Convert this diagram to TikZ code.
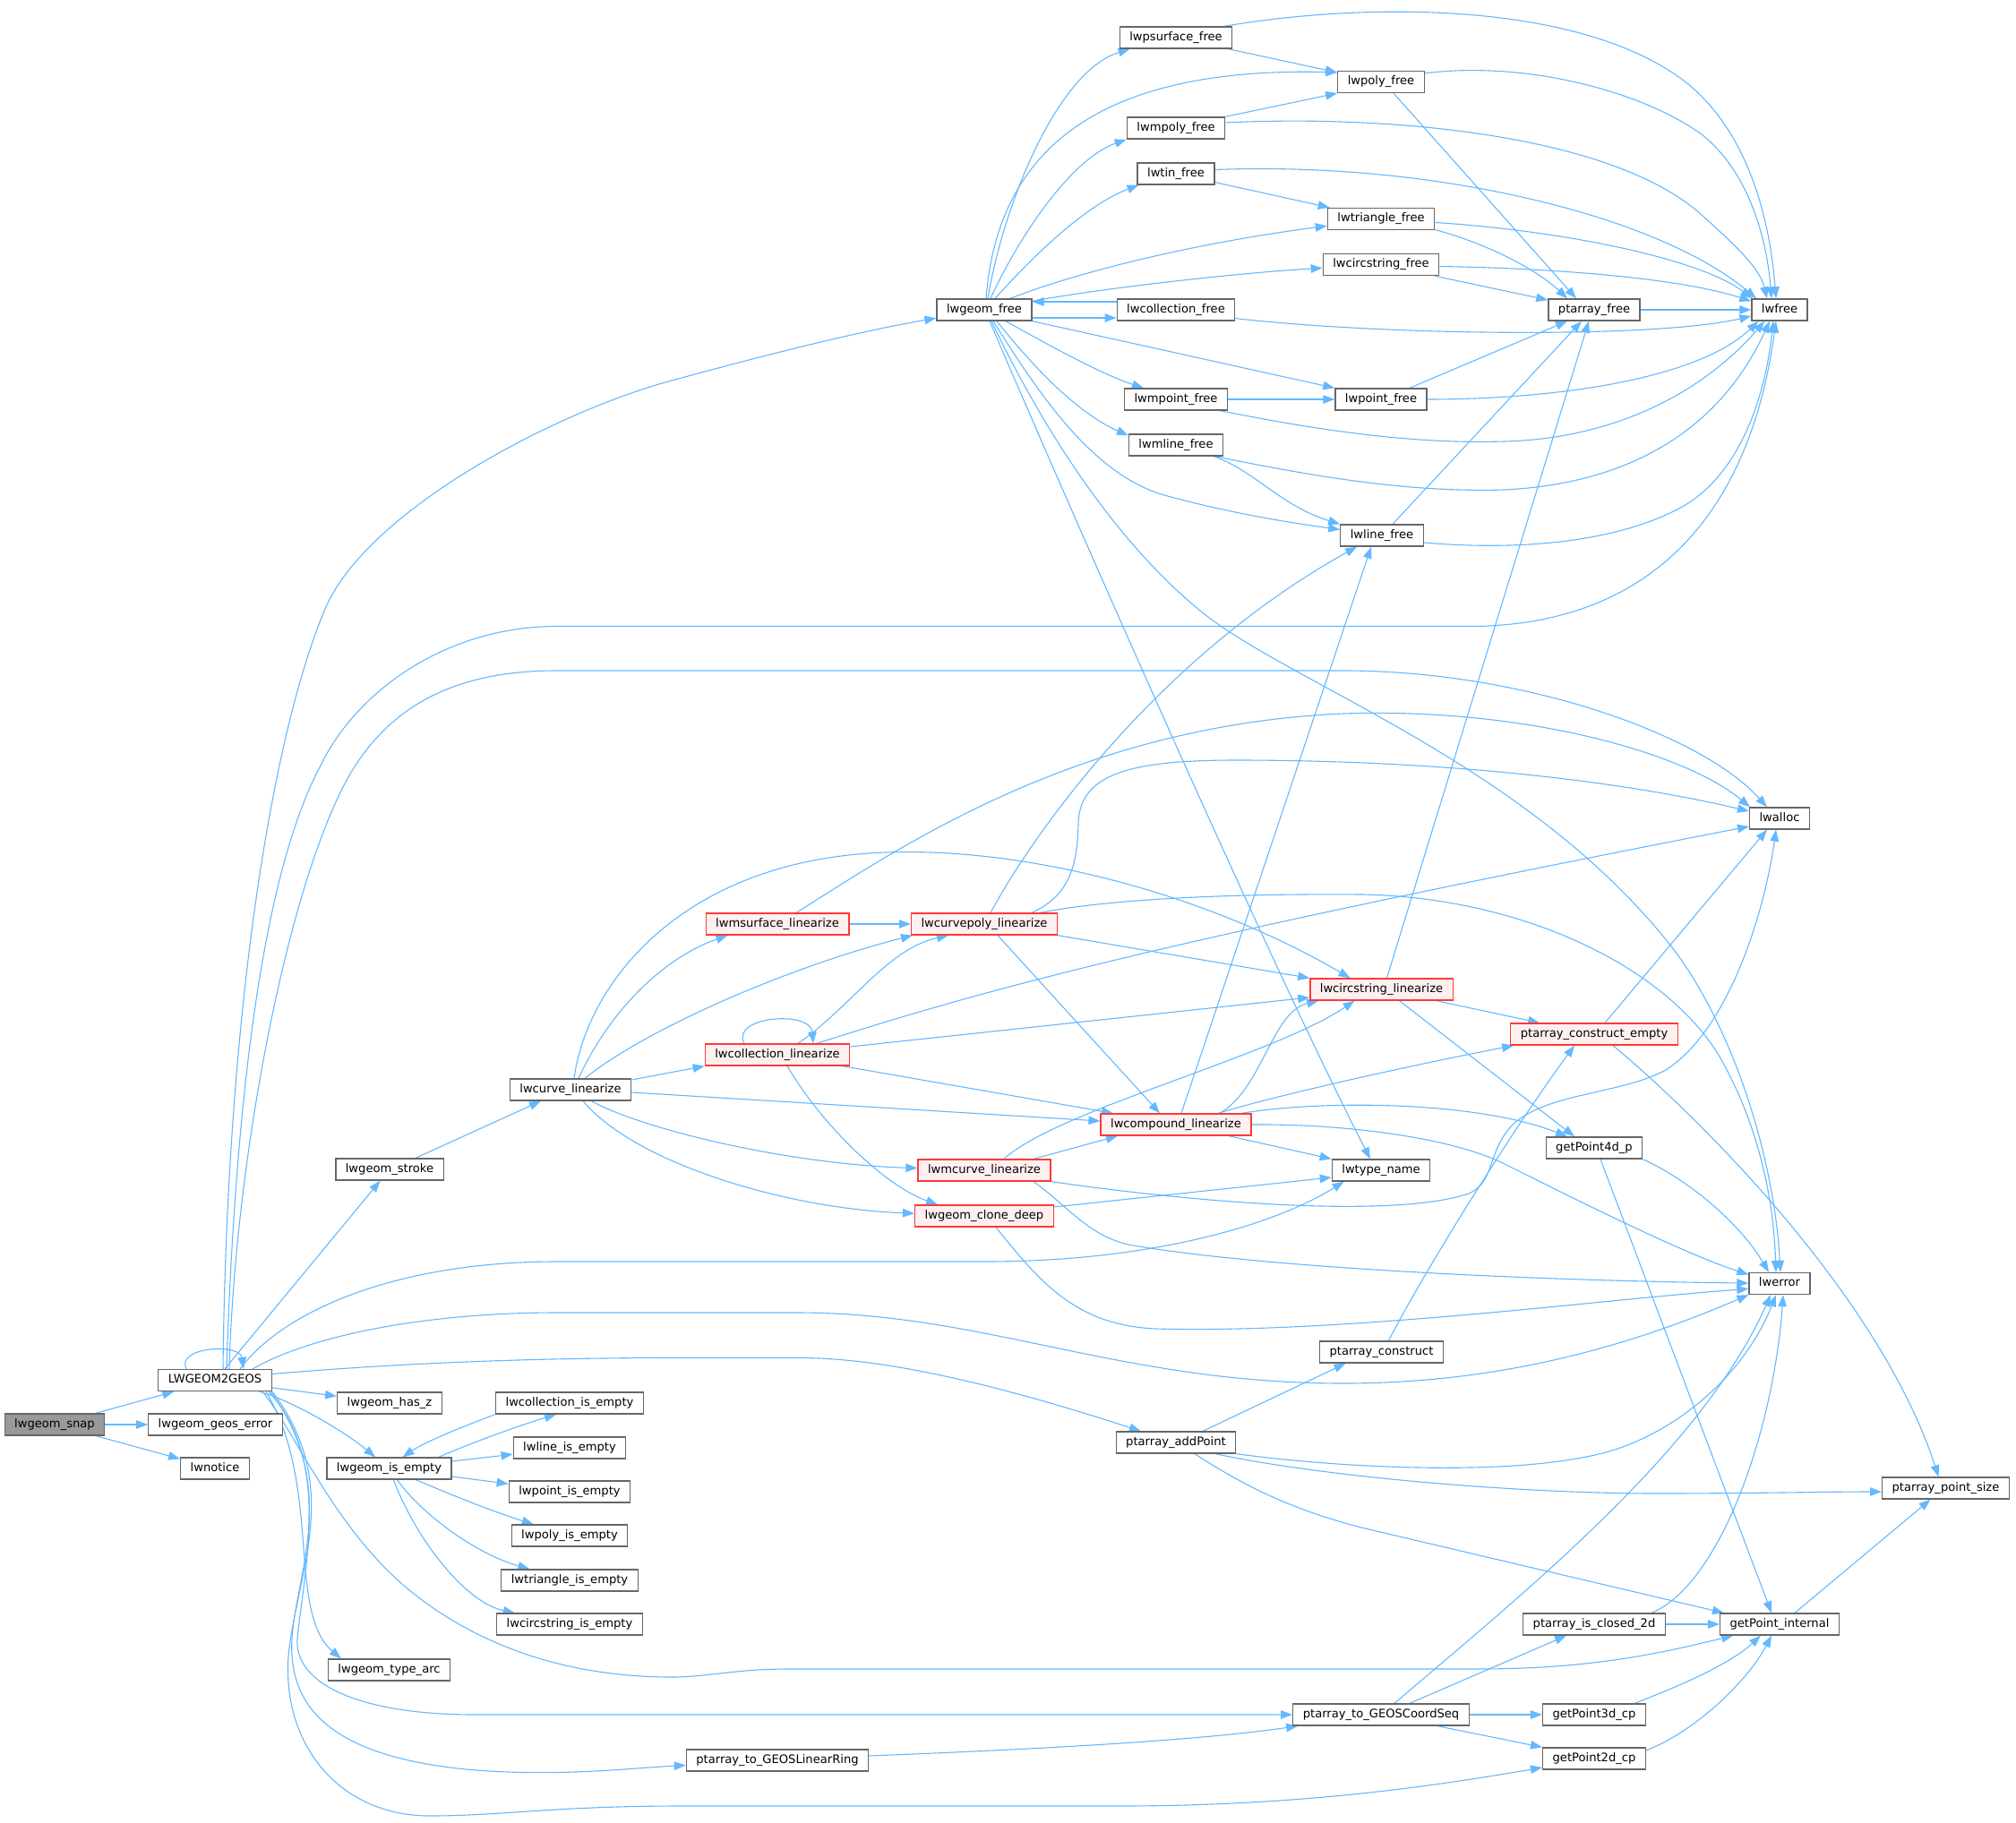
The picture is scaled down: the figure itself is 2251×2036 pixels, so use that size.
\documentclass[tikz,border=0pt]{standalone}
\usepackage{fontspec}
\setmainfont{DejaVu Sans}
\usepackage{tikz}
\usetikzlibrary{arrows.meta,backgrounds}
\definecolor{edgeblue}{HTML}{63B8FF}
\definecolor{nodegray}{HTML}{666666}
\definecolor{rootgray}{HTML}{999999}
\definecolor{truncred}{HTML}{FF3838}
\definecolor{truncfill}{HTML}{FFF0F0}
\tikzset{
  fn/.style={rectangle,draw=nodegray,fill=white,line width=1.3pt,minimum height=24pt,
    inner xsep=11pt,inner ysep=0pt,text height=9.6pt,text depth=2.9pt,
    font=\fontsize{13.1}{15}\selectfont},
  fnred/.style={fn,draw=truncred,fill=truncfill},   % truncated callee
  fnroot/.style={fn,fill=rootgray},                 % function of the graph
  calledge/.style={draw=edgeblue,line width=1.1pt,-{Triangle[length=13pt,width=9.5pt]}},
}
\begin{document}
\begin{tikzpicture}[x=1pt,y=-1pt]
  \useasboundingbox (0,0) rectangle (2251,2036);
  % ---- functions ----
  \node[fnroot] (snap) at (61,1591) {lwgeom\_snap};
  \node[fn] (ltog) at (240,1541.5) {LWGEOM2GEOS};
  \node[fn] (geoserr) at (240.5,1591) {lwgeom\_geos\_error};
  \node[fn] (notice) at (240,1640) {lwnotice};
  \node[fn] (stroke) at (435,1306) {lwgeom\_stroke};
  \node[fn] (hasz) at (435,1567) {lwgeom\_has\_z};
  \node[fn] (isempty) at (434.5,1640) {lwgeom\_is\_empty};
  \node[fn] (typearc) at (434.5,1865) {lwgeom\_type\_arc};
  \node[fn] (curvelin) at (637,1217) {lwcurve\_linearize};
  \node[fn] (collempty) at (636,1567) {lwcollection\_is\_empty};
  \node[fn] (lineempty) at (636,1617) {lwline\_is\_empty};
  \node[fn] (pointempty) at (636,1666) {lwpoint\_is\_empty};
  \node[fn] (polyempty) at (636,1715) {lwpoly\_is\_empty};
  \node[fn] (triempty) at (636,1765) {lwtriangle\_is\_empty};
  \node[fn] (circempty) at (636,1814) {lwcircstring\_is\_empty};
  \node[fn] (geomfree) at (1099,346) {lwgeom\_free};
  \node[fnred] (msurflin) at (868,1032) {lwmsurface\_linearize};
  \node[fnred] (colllin) at (868,1178) {lwcollection\_linearize};
  \node[fn] (linring) at (868,1966) {ptarray\_to\_GEOSLinearRing};
  \node[fnred] (cpolylin) at (1099,1032) {lwcurvepoly\_linearize};
  \node[fnred] (mcurvelin) at (1099,1307) {lwmcurve\_linearize};
  \node[fnred] (clonedeep) at (1099,1358) {lwgeom\_clone\_deep};
  \node[fn] (psurffree) at (1313,42) {lwpsurface\_free};
  \node[fn] (mpolyfree) at (1313,143) {lwmpoly\_free};
  \node[fn] (tinfree) at (1313,194) {lwtin\_free};
  \node[fn] (collfree) at (1313,346) {lwcollection\_free};
  \node[fn] (mpointfree) at (1313,446) {lwmpoint\_free};
  \node[fn] (mlinefree) at (1313,497) {lwmline\_free};
  \node[fnred] (complin) at (1313,1256) {lwcompound\_linearize};
  \node[fn] (addpoint) at (1313,1611) {ptarray\_addPoint};
  \node[fn] (polyfree) at (1542,91.5) {lwpoly\_free};
  \node[fn] (trifree) at (1542,244.5) {lwtriangle\_free};
  \node[fn] (circfree) at (1542,295.5) {lwcircstring\_free};
  \node[fn] (pointfree) at (1542,446) {lwpoint\_free};
  \node[fn] (linefree) at (1543,598) {lwline\_free};
  \node[fnred] (circlin) at (1542.5,1105) {lwcircstring\_linearize};
  \node[fn] (typename) at (1542,1307) {lwtype\_name};
  \node[fn] (construct) at (1542.5,1510) {ptarray\_construct};
  \node[fn] (coordseq) at (1542,1915) {ptarray\_to\_GEOSCoordSeq};
  \node[fn] (pafree) at (1780,346) {ptarray\_free};
  \node[fnred] (consempty) at (1780,1155) {ptarray\_construct\_empty};
  \node[fn] (pt4d) at (1780,1282) {getPoint4d\_p};
  \node[fn] (closed2d) at (1780,1814) {ptarray\_is\_closed\_2d};
  \node[fn] (pt3d) at (1780,1915) {getPoint3d\_cp};
  \node[fn] (pt2d) at (1780,1964) {getPoint2d\_cp};
  \node[fn] (lwfree) at (1987,346) {lwfree};
  \node[fn] (lwalloc) at (1987,914) {lwalloc};
  \node[fn] (lwerror) at (1987,1433.5) {lwerror};
  \node[fn] (ptint) at (1987,1814) {getPoint\_internal};
  \node[fn] (ptsize) at (2172.5,1662) {ptarray\_point\_size};

  \begin{scope}[on background layer]
  % ---- lwgeom_snap ----
  \draw[calledge] (snap) -- (ltog);
  \draw[calledge] (snap) -- (geoserr);
  \draw[calledge] (snap) -- (notice);
  % ---- LWGEOM2GEOS ----
  \draw[calledge] ([xshift=-32pt]ltog.north) .. controls (196,1504) and (268,1500) .. ([xshift=32pt]ltog.north);
  \draw[calledge] ([xshift=9pt]ltog.north) .. controls (253,1150) and (300,830) .. (363,680)
    .. controls (410,570) and (620,460) .. (750,425) .. controls (860,395) and (960,370) .. (geomfree);
  \draw[calledge] ([xshift=13pt]ltog.north) .. controls (262,1250) and (290,980) .. (359,853)
    .. controls (400,770) and (500,699.5) .. (622,699.5) -- (1640,699.5)
    .. controls (1820,699.5) and (1950,600) .. ([xshift=-4pt]lwfree.south);
  \draw[calledge] ([xshift=16pt]ltog.north) .. controls (262,1300) and (320,990) .. (390,866)
    .. controls (440,780) and (520,749) .. (622,749) -- (1500,749)
    .. controls (1700,749) and (1900,820) .. ([xshift=-14pt]lwalloc.north);
  \draw[calledge] ([xshift=11pt]ltog.north) -- (stroke);
  \draw[calledge] ([xshift=28pt]ltog.north) .. controls (320,1460) and (450,1409) .. (622,1409) -- (1100,1409)
    .. controls (1280,1409) and (1420,1370) .. ([xshift=14pt]typename.south west);
  \draw[calledge] ([xshift=42pt]ltog.north) .. controls (350,1490) and (480,1466) .. (622,1466) -- (890,1466)
    .. controls (1100,1466) and (1250,1545) .. (1500,1545)
    .. controls (1700,1545) and (1850,1490) .. (lwerror.south west);
  \draw[calledge] ([yshift=7pt]ltog.east) .. controls (450,1522) and (600,1516.5) .. (750,1516.5) -- (893,1516.5)
    .. controls (1000,1516.5) and (1140,1555) .. (addpoint);
  \draw[calledge] (ltog) -- (hasz);
  \draw[calledge] (ltog) .. controls (320,1562) and (380,1595) .. (isempty);
  \draw[calledge] ([xshift=53pt]ltog.south) .. controls (330,1600) and (370,1700) .. (450,1770)
    .. controls (520,1830) and (620,1873) .. (750,1873)
    .. controls (790,1873) and (820,1864) .. (880,1864) -- (1650,1864)
    .. controls (1780,1864) and (1860,1845) .. (ptint);
  \draw[calledge] ([xshift=57pt]ltog.south) .. controls (360,1660) and (320,1800) .. ([xshift=15pt]typearc.north west);
  \draw[calledge] ([xshift=60pt]ltog.south) .. controls (370,1630) and (340,1750) .. (332,1830)
    .. controls (328,1880) and (400,1915) .. (530,1915) -- (coordseq);
  \draw[calledge] ([xshift=62pt]ltog.south) .. controls (380,1660) and (330,1760) .. (326,1830)
    .. controls (322,1900) and (360,1960) .. (520,1976) .. controls (620,1985) and (700,1975) .. (linring);
  \draw[calledge] (ltog.south east) .. controls (385,1660) and (330,1760) .. (322,1850)
    .. controls (315,1950) and (380,2028) .. (480,2028) .. controls (560,2028) and (620,2017) .. (760,2017)
    -- (1250,2017) .. controls (1450,2017) and (1600,1995) .. (pt2d);
  % ---- lwgeom_is_empty ----
  \draw[calledge] ([xshift=55pt]isempty.north) .. controls (530,1610) and (580,1592) .. ([xshift=-15pt]collempty.south);
  \draw[calledge] (collempty.south west) .. controls (520,1592) and (475,1610) .. ([xshift=15pt]isempty.north);
  \draw[calledge] (isempty) -- (lineempty);
  \draw[calledge] (isempty) -- (pointempty);
  \draw[calledge] (isempty) .. controls (510,1672) and (550,1688) .. (polyempty);
  \draw[calledge] (isempty) .. controls (470,1690) and (530,1735) .. (triempty);
  \draw[calledge] (isempty) .. controls (465,1720) and (520,1790) .. (circempty);
  % ---- lwgeom_free ----
  \draw[calledge] ([xshift=4pt]geomfree.north) .. controls (1120,230) and (1180,80) .. ([xshift=12pt]psurffree.south west);
  \draw[calledge] ([xshift=2pt]geomfree.north) .. controls (1115,150) and (1250,75) .. ([yshift=-2pt]polyfree.north west);
  \draw[calledge] ([xshift=7pt]geomfree.north) .. controls (1130,280) and (1190,180) .. (mpolyfree.south west);
  \draw[calledge] ([xshift=12pt]geomfree.north) .. controls (1150,290) and (1210,230) .. ([xshift=2pt]tinfree.south west);
  \draw[calledge] ([xshift=29pt]geomfree.north) .. controls (1200,305) and (1330,272) .. (trifree);
  \draw[calledge] ([yshift=-3pt]geomfree.north east) .. controls (1230,322) and (1380,305) .. (circfree);
  \draw[calledge] ([yshift=-9pt]geomfree.east) -- ([yshift=-9pt]collfree.west);
  \draw[calledge] ([yshift=9pt]collfree.west) -- ([yshift=9pt]geomfree.east);
  \draw[calledge] (geomfree.south east) -- (pointfree.north west);
  \draw[calledge] ([xshift=24pt]geomfree.south) .. controls (1170,385) and (1230,418) .. ([xshift=-36pt]mpointfree.north);
  \draw[calledge] ([xshift=14pt]geomfree.south) .. controls (1150,405) and (1200,460) .. ([yshift=-2pt]mlinefree.north west);
  \draw[calledge] ([xshift=10pt]geomfree.south) .. controls (1160,440) and (1220,530) .. (1300,553)
    .. controls (1380,575) and (1450,585) .. (linefree);
  \draw[calledge] ([xshift=6pt]geomfree.south) .. controls (1230,650) and (1430,1100) .. ([xshift=-12pt]typename.north);
  \draw[calledge] ([xshift=8pt]geomfree.south) .. controls (1160,470) and (1240,600) .. (1340,682)
    .. controls (1440,764) and (1700,850) .. (1863,1053) .. controls (1928,1134) and (1980,1280) .. ([xshift=1pt]lwerror.north);
  % ---- the *_free functions ----
  \draw[calledge] (psurffree) -- (polyfree);
  \draw[calledge] ([xshift=54pt]psurffree.north) .. controls (1520,3) and (1760,0) .. (1880,90)
    .. controls (1945,140) and (1975,230) .. ([xshift=-4pt]lwfree.north);
  \draw[calledge] ([yshift=-3pt]polyfree.north east) .. controls (1700,68) and (1830,100) .. (1900,150)
    .. controls (1950,190) and (1972,260) .. ([xshift=-9pt]lwfree.north);
  \draw[calledge] ([xshift=14pt]polyfree.south) -- ([xshift=-20pt]pafree.north);
  \draw[calledge] (mpolyfree.north east) -- (polyfree.south west);
  \draw[calledge] ([yshift=6pt]mpolyfree.east) .. controls (1550,128) and (1800,150) .. (1900,240)
    .. controls (1940,276) and (1965,300) .. ([xshift=-14pt]lwfree.north);
  \draw[calledge] (tinfree) -- (trifree);
  \draw[calledge] ([yshift=4.5pt]tinfree.east) .. controls (1600,180) and (1850,240) .. ([xshift=-26pt]lwfree.north);
  \draw[calledge] ([yshift=-4pt]trifree.east) .. controls (1750,258) and (1900,290) .. ([xshift=1pt]lwfree.north west);
  \draw[calledge] ([yshift=-12pt]trifree.east) .. controls (1670,275) and (1720,305) .. ([xshift=-30pt]pafree.north);
  \draw[calledge] ([yshift=-2pt]circfree.east) .. controls (1750,300) and (1880,312) .. ([yshift=-3pt]lwfree.north west);
  \draw[calledge] (circfree) -- (pafree);
  \draw[calledge] ([yshift=-9.6pt]collfree.east) .. controls (1550,375) and (1850,378) .. ([yshift=-7pt]lwfree.west);
  \draw[calledge] (mpointfree) -- (pointfree);
  \draw[calledge] ([xshift=49pt]mpointfree.south) .. controls (1480,482) and (1580,496) .. (1680,493)
    .. controls (1800,490) and (1900,440) .. ([xshift=15pt]lwfree.south west);
  \draw[calledge] ([xshift=32pt]pointfree.north) -- ([xshift=-30pt]pafree.south);
  \draw[calledge] (pointfree.east) .. controls (1750,446) and (1900,420) .. ([xshift=8pt]lwfree.south west);
  \draw[calledge] ([xshift=42pt]mlinefree.south) .. controls (1400,525) and (1430,565) .. (linefree.north west);
  \draw[calledge] ([xshift=44pt]mlinefree.south) .. controls (1480,535) and (1580,550) .. (1680,547)
    .. controls (1820,540) and (1920,480) .. ([xshift=-11pt]lwfree.south);
  \draw[calledge] ([xshift=12pt]linefree.north) -- ([xshift=-14pt]pafree.south);
  \draw[calledge] ([yshift=-8pt]linefree.east) .. controls (1680,614) and (1800,610) .. (1880,565)
    .. controls (1940,530) and (1970,450) .. ([xshift=-7pt]lwfree.south);
  \draw[calledge] (pafree) -- (lwfree);
  % ---- linearize ----
  \draw[calledge] ([xshift=29pt]stroke.north) -- ([xshift=-33pt]curvelin.south);
  \draw[calledge] ([xshift=4pt]curvelin.north) .. controls (655,1100) and (760,960) .. (989,952)
    .. controls (1150,946) and (1350,1000) .. ([xshift=-35pt]circlin.north);
  \draw[calledge] ([xshift=9pt]curvelin.north) .. controls (680,1130) and (740,1070) .. ([xshift=25pt]msurflin.south west);
  \draw[calledge] ([xshift=16pt]curvelin.north) .. controls (720,1150) and (880,1080) .. ([xshift=-80pt]cpolylin.south);
  \draw[calledge] ([yshift=11pt]curvelin.east) -- (colllin.south west);
  \draw[calledge] ([yshift=-3pt]curvelin.east) -- ([yshift=4pt]complin.west);
  \draw[calledge] ([xshift=23pt]curvelin.south) .. controls (720,1262) and (880,1300) .. (mcurvelin);
  \draw[calledge] ([xshift=14pt]curvelin.south) .. controls (710,1300) and (880,1350) .. (clonedeep);
  \draw[calledge] (msurflin) -- (cpolylin);
  \draw[calledge] ([xshift=21pt]msurflin.north) .. controls (1000,950) and (1200,810) .. (1500,797)
    .. controls (1700,790) and (1880,840) .. ([xshift=-33pt]lwalloc.north);
  \draw[calledge] ([xshift=7pt]cpolylin.north) .. controls (1160,920) and (1300,730) .. ([xshift=-28pt]linefree.south);
  \draw[calledge] ([xshift=53pt]cpolylin.north) .. controls (1195,1000) and (1203,965) .. (1204,920)
    .. controls (1205,865) and (1260,849) .. (1380,849) .. controls (1600,849) and (1800,870) .. (lwalloc);
  \draw[calledge] ([xshift=62pt]cpolylin.north) .. controls (1250,1002) and (1400,998) .. (1520,999)
    .. controls (1700,1002) and (1860,1080) .. (1920,1180) .. controls (1960,1250) and (1980,1330) .. ([xshift=-4pt]lwerror.north);
  \draw[calledge] (cpolylin.south east) -- (circlin.north west);
  \draw[calledge] ([xshift=15pt]cpolylin.south) -- ([xshift=-18pt]complin.north);
  \draw[calledge] ([xshift=-37pt]colllin.north) .. controls (815,1135) and (905,1128) .. ([xshift=40pt]colllin.north);
  \draw[calledge] ([xshift=23pt]colllin.north) .. controls (950,1125) and (990,1060) .. ([xshift=-40pt]cpolylin.south);
  \draw[calledge] ([xshift=44pt]colllin.north) .. controls (1100,1105) and (1300,1050) .. ([yshift=-9pt]lwalloc.west);
  \draw[calledge] ([yshift=9pt]colllin.east) -- ([yshift=-9pt]circlin.west);
  \draw[calledge] ([xshift=73pt]colllin.south) -- ([xshift=-70pt]complin.north);
  \draw[calledge] ([xshift=11pt]colllin.south) .. controls (920,1260) and (990,1325) .. ([xshift=-52pt]clonedeep.north);
  \draw[calledge] ([xshift=6pt]circlin.north) -- ([xshift=-6pt]pafree.south);
  \draw[calledge] ([xshift=-19pt]circlin.south east) -- ([xshift=33pt]consempty.north west);
  \draw[calledge] ([xshift=20pt]circlin.south) -- ([xshift=-22pt]pt4d.north);
  \draw[calledge] ([xshift=6pt]complin.north) -- ([xshift=-12pt]linefree.south);
  \draw[calledge] ([xshift=59pt]complin.south) -- (typename.north west);
  \draw[calledge] (complin.east) .. controls (1500,1255) and (1620,1270) .. (1680,1300)
    .. controls (1760,1340) and (1880,1400) .. ([yshift=10pt]lwerror.west);
  \draw[calledge] ([xshift=73pt]complin.north) .. controls (1480,1228) and (1650,1230) .. ([xshift=-30pt]pt4d.north);
  \draw[calledge] ([xshift=47pt]complin.north) .. controls (1420,1225) and (1550,1195) .. ([xshift=4pt]consempty.south west);
  \draw[calledge] ([xshift=49pt]complin.north) .. controls (1410,1215) and (1420,1130) .. ([xshift=10pt]circlin.south west);
  \draw[calledge] ([xshift=55pt]mcurvelin.north) -- ([xshift=-65pt]complin.south);
  \draw[calledge] ([xshift=22pt]mcurvelin.north) .. controls (1180,1240) and (1420,1180) .. ([xshift=-30pt]circlin.south);
  \draw[calledge] (mcurvelin.south east) .. controls (1350,1345) and (1560,1360) .. (1640,1333)
    .. controls (1670,1320) and (1660,1285) .. (1690,1255) .. controls (1730,1220) and (1810,1222) .. (1860,1195)
    .. controls (1930,1150) and (1970,1020) .. ([xshift=-4pt]lwalloc.south);
  \draw[calledge] ([xshift=55pt]mcurvelin.south) .. controls (1190,1345) and (1215,1380) .. (1260,1390)
    .. controls (1400,1415) and (1700,1430) .. (lwerror);
  \draw[calledge] ([yshift=10pt]clonedeep.east) -- ([yshift=-8pt]typename.west);
  \draw[calledge] ([xshift=13pt]clonedeep.south) .. controls (1160,1430) and (1200,1480) .. (1290,1484)
    .. controls (1500,1490) and (1800,1450) .. ([yshift=-6pt]lwerror.west);
  % ---- point arrays ----
  \draw[calledge] ([xshift=30pt]addpoint.north) -- ([xshift=-40pt]construct.south);
  \draw[calledge] (addpoint.south east) .. controls (1500,1640) and (1700,1650) .. (1800,1620)
    .. controls (1880,1595) and (1950,1530) .. ([xshift=-4pt]lwerror.south);
  \draw[calledge] ([xshift=44pt]addpoint.south) .. controls (1480,1650) and (1700,1668) .. (1850,1668)
    .. controls (1950,1668) and (2040,1666) .. ([yshift=-4pt]ptsize.west);
  \draw[calledge] ([xshift=21pt]addpoint.south) .. controls (1390,1660) and (1440,1685) .. (1520,1706)
    -- ([xshift=5pt]ptint.north west);
  \draw[calledge] ([xshift=8pt]construct.north) .. controls (1590,1420) and (1690,1260) .. ([xshift=-22pt]consempty.south);
  \draw[calledge] ([xshift=12pt]consempty.north) -- ([xshift=-14pt]lwalloc.south);
  \draw[calledge] ([xshift=21pt]consempty.south) .. controls (1900,1250) and (2100,1450) .. ([xshift=-8pt]ptsize.north);
  \draw[calledge] (pt4d.south east) .. controls (1890,1320) and (1945,1370) .. ([xshift=-12pt]lwerror.north);
  \draw[calledge] ([xshift=7pt]pt4d.south) -- ([xshift=-9pt]ptint.north);
  \draw[calledge] ([xshift=15pt]coordseq.north) .. controls (1700,1780) and (1900,1620) .. ([xshift=-10pt]lwerror.south);
  \draw[calledge] ([xshift=32pt]coordseq.north) -- ([xshift=-31pt]closed2d.south);
  \draw[calledge] (coordseq) -- (pt3d);
  \draw[calledge] ([xshift=63pt]coordseq.south) -- (pt2d.north west);
  \draw[calledge] ([yshift=5pt]linring.east) .. controls (1200,1952) and (1350,1942) .. ([xshift=6pt]coordseq.south west);
  \draw[calledge] (closed2d) -- (ptint);
  \draw[calledge] ([xshift=64pt]closed2d.north) .. controls (1920,1770) and (1980,1600) .. ([xshift=4pt]lwerror.south);
  \draw[calledge] ([xshift=45pt]pt3d.north) .. controls (1870,1885) and (1930,1860) .. ([xshift=-21pt]ptint.south);
  \draw[calledge] ([yshift=9pt]pt2d.east) .. controls (1890,1935) and (1950,1880) .. ([xshift=-9pt]ptint.south);
  \draw[calledge] ([xshift=17pt]ptint.north) -- ([xshift=-17pt]ptsize.south);
  \end{scope}
\end{tikzpicture}
\end{document}
